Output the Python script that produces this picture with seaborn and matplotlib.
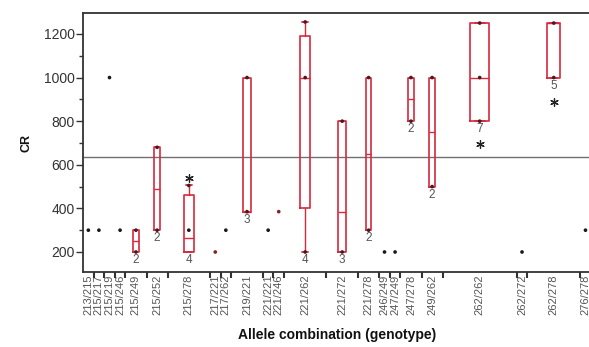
import numpy as np
import pandas as pd
import matplotlib
matplotlib.use("Agg")
import matplotlib.pyplot as plt
import seaborn as sns

# Genotype categories along the x axis and number of animals in each
genotypes = ["213/215", "215/217", "215/219", "215/246", "215/249", "215/252", "215/278",
             "217/221", "217/262", "219/221", "221/221", "221/246", "221/262", "221/272",
             "221/278", "246/249", "247/249", "247/278", "249/262", "262/262", "262/272",
             "262/278", "276/278"]
counts = [1, 1, 1, 1, 2, 2, 4, 1, 1, 3, 1, 1, 4, 3, 2, 1, 1, 2, 2, 7, 1, 5, 1]

# Box summaries for genotypes with two or more animals
box_geno = ["215/249", "215/252", "215/278", "219/221", "221/262", "221/272",
            "221/278", "247/278", "249/262", "262/262", "262/278"]
box_low = [200, 300, 200, 385, 200, 200, 300, 800, 500, 800, 1000]
box_q1 = [200, 300, 200, 385, 400, 200, 300, 800, 500, 800, 1000]
box_med = [250, 490, 265, 385, 1000, 385, 650, 900, 750, 1000, 1250]
box_q3 = [300, 680, 460, 1000, 1190, 800, 1000, 1000, 1000, 1250, 1250]
box_high = [300, 680, 505, 1000, 1255, 800, 1000, 1000, 1000, 1250, 1250]

# Individual observations
obs_geno = ["213/215", "215/217", "215/219", "215/246", "217/262", "221/221",
            "246/249", "247/249", "262/272", "276/278", "215/278",
            "217/221", "221/246",
            "215/249", "215/249", "215/252", "215/252", "215/278", "219/221", "219/221",
            "221/262", "221/262", "221/262", "221/272", "221/272", "221/278", "221/278",
            "247/278", "247/278", "249/262", "249/262", "262/262", "262/262", "262/262",
            "262/278", "262/278"]
obs_cr = [300, 300, 1000, 300, 300, 300,
          200, 200, 200, 300, 300,
          200, 385,
          200, 300, 300, 680, 505, 385, 1000,
          200, 1000, 1255, 200, 800, 300, 1000,
          800, 1000, 500, 1000, 800, 1000, 1250,
          1000, 1250]
obs_kind = ["single"] * 11 + ["red"] * 2 + ["box"] * 23

# Flagged values marked with an asterisk
flag_geno = ["215/278", "262/262", "262/278"]
flag_cr = [540, 695, 890]

grand_mean = 635

# ---- layout: each genotype occupies a width proportional to its count ----
counts_arr = np.array(counts, dtype=float)
edges = np.concatenate([[0], np.cumsum(counts_arr)])
centers = dict(zip(genotypes, edges[:-1] + counts_arr / 2))
n_of = dict(zip(genotypes, counts))

sns.set_theme(style="ticks")
plt.rcParams["font.family"] = ["Liberation Sans", "DejaVu Sans"]

fig = plt.figure(figsize=(5.89, 3.47), dpi=100)
ax = fig.add_axes([0.141, 0.216, 0.862, 0.7465])

red = "#d8283c"
ink = "#333333"

ax.axhline(grand_mean, color="#707070", lw=1.0, zorder=1)

stats = []
for g, lo, q1, md, q3, hi in zip(box_geno, box_low, box_q1, box_med, box_q3, box_high):
    stats.append(dict(whislo=lo, q1=q1, med=md, q3=q3, whishi=hi, label=g))
pos = [centers[g] for g in box_geno]
wid = [0.25 * n_of[g] for g in box_geno]
ax.bxp(stats, positions=pos, widths=wid, showfliers=False, manage_ticks=False,
       capwidths=[w * 0.55 for w in wid],
       boxprops=dict(color=red, lw=1.2),
       whiskerprops=dict(color=red, lw=1.0),
       capprops=dict(color=red, lw=1.3),
       medianprops=dict(color=red, lw=1.0), zorder=2)

obs = pd.DataFrame({"x": [centers[g] for g in obs_geno], "CR": obs_cr, "kind": obs_kind})
sns.scatterplot(data=obs, x="x", y="CR", hue="kind",
                palette={"single": "#1a1a1a", "red": "#8a1f2a", "box": "#4a1a20"},
                s=7, linewidth=0, legend=False, ax=ax, zorder=3)

flags = pd.DataFrame({"x": [centers[g] for g in flag_geno], "CR": flag_cr})
sns.scatterplot(data=flags, x="x", y="CR", marker=(6, 2, 0), s=30, color="#222222",
                linewidth=0.9, edgecolor="#222222", legend=False, ax=ax, zorder=3)

for g, lo in zip(box_geno, box_low):
    ax.annotate(str(n_of[g]), (centers[g], lo), xytext=(0, -1.5), textcoords="offset points",
                ha="center", va="top", fontsize=8.5, color="#555555")

ax.set_xlim(0, edges[-1])
ax.set_ylim(108, 1296)
ax.set_yticks([200, 400, 600, 800, 1000, 1200])
ax.set_yticks(np.arange(200, 1300, 100), minor=True)
ax.tick_params(axis="y", which="major", length=5, width=1, labelsize=10, colors=ink, pad=1)
ax.tick_params(axis="y", which="minor", length=3, width=1, colors=ink)

ax.set_xticks(edges[1:-1], minor=True)
ax.set_xticks(edges[:-1] + counts_arr / 2)
ax.set_xticklabels(genotypes, rotation=90, fontsize=8, color="#555555")
ax.tick_params(axis="x", which="major", length=0, pad=2)
ax.tick_params(axis="x", which="minor", length=4, width=1.5, color=ink)

for side in ["left", "bottom", "top", "right"]:
    ax.spines[side].set_color(ink)
    ax.spines[side].set_linewidth(1.3)

ax.set_ylabel("CR", fontsize=9, fontweight="bold", color="#111111", labelpad=8)
ax.set_xlabel("Allele combination (genotype)", fontsize=10, fontweight="bold",
              color="#111111", labelpad=9)
ax.set_facecolor("white")
fig.patch.set_facecolor("white")

fig.savefig("out.png", dpi=100)
